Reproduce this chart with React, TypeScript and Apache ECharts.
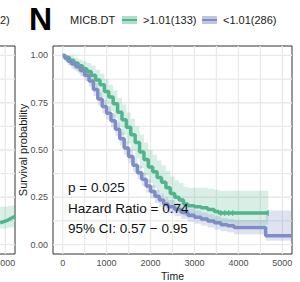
import React, { useEffect, useRef } from "react";
import * as echarts from "echarts";

const FONT = "Liberation Sans, Arial, Helvetica, sans-serif";
const X_MIN = -220;
const X_MAX = 5220;
const Y_MIN = -0.05;
const Y_MAX = 1.05;

const xTicks = [0, 1000, 2000, 3000, 4000, 5000];
const yTicks = [0, 0.25, 0.5, 0.75, 1];
const xGrid = [0, 500, 1000, 1500, 2000, 2500, 3000, 3500, 4000, 4500, 5000];
const yGrid = [0, 0.125, 0.25, 0.375, 0.5, 0.625, 0.75, 0.875, 1];

const legendTitle = "MICB.DT";
const groupNames = [">1.01(133)", "<1.01(286)"];
const annotations = ["p = 0.025", "Hazard Ratio = 0.74", "95% CI: 0.57 \u2212 0.95"];

// Green group (>1.01, n=133)
const gT = [0, 60, 150, 250, 350, 450, 550, 650, 750, 850, 950, 1050, 1150, 1250, 1350, 1450, 1550, 1650, 1750, 1850, 1950, 2050, 2150, 2250, 2350, 2450, 2550, 2650, 2750, 2850, 3000, 3150, 3300, 3450, 3550, 4680];
const gS = [1.0, 0.99, 0.975, 0.96, 0.945, 0.93, 0.915, 0.895, 0.87, 0.845, 0.81, 0.78, 0.745, 0.7, 0.66, 0.62, 0.58, 0.54, 0.49, 0.45, 0.41, 0.385, 0.355, 0.33, 0.3, 0.27, 0.25, 0.235, 0.215, 0.205, 0.2, 0.195, 0.185, 0.175, 0.167, 0.167];
const gU = [1.0, 1.0, 1.0, 0.99, 0.98, 0.97, 0.96, 0.945, 0.925, 0.905, 0.875, 0.845, 0.815, 0.775, 0.74, 0.7, 0.665, 0.625, 0.58, 0.54, 0.5, 0.475, 0.445, 0.42, 0.39, 0.36, 0.34, 0.325, 0.305, 0.3, 0.3, 0.3, 0.295, 0.29, 0.285, 0.285];
const gL = [1.0, 0.97, 0.95, 0.925, 0.905, 0.885, 0.865, 0.84, 0.81, 0.78, 0.74, 0.705, 0.67, 0.62, 0.58, 0.535, 0.495, 0.455, 0.405, 0.365, 0.325, 0.3, 0.27, 0.25, 0.22, 0.195, 0.175, 0.165, 0.15, 0.14, 0.135, 0.13, 0.12, 0.115, 0.105, 0.105];
const gCensT = [3600, 3690, 3780, 3870, 4680];
const gCensS = [0.167, 0.167, 0.167, 0.167, 0.167];

// Blue group (<1.01, n=286)
const bT = [0, 50, 120, 200, 300, 400, 500, 600, 700, 800, 900, 1000, 1100, 1200, 1300, 1400, 1500, 1600, 1700, 1800, 1900, 2000, 2100, 2200, 2300, 2400, 2550, 2700, 2850, 3000, 3150, 3300, 3450, 3600, 3750, 3900, 4620, 5220];
const bS = [1.0, 0.985, 0.97, 0.955, 0.94, 0.92, 0.895, 0.865, 0.82, 0.77, 0.73, 0.695, 0.655, 0.61, 0.56, 0.51, 0.465, 0.42, 0.38, 0.345, 0.31, 0.28, 0.255, 0.235, 0.215, 0.2, 0.185, 0.17, 0.155, 0.145, 0.135, 0.125, 0.115, 0.105, 0.1, 0.09, 0.047, 0.047];
const bU = [1.0, 1.0, 0.99, 0.98, 0.965, 0.95, 0.925, 0.895, 0.855, 0.805, 0.765, 0.73, 0.69, 0.645, 0.595, 0.545, 0.5, 0.455, 0.415, 0.38, 0.345, 0.315, 0.29, 0.27, 0.25, 0.235, 0.22, 0.205, 0.19, 0.18, 0.17, 0.16, 0.15, 0.14, 0.135, 0.13, 0.18, 0.18];
const bL = [1.0, 0.97, 0.95, 0.93, 0.915, 0.89, 0.865, 0.835, 0.785, 0.735, 0.695, 0.66, 0.62, 0.575, 0.525, 0.475, 0.43, 0.385, 0.345, 0.31, 0.275, 0.245, 0.22, 0.2, 0.18, 0.165, 0.15, 0.135, 0.12, 0.11, 0.1, 0.09, 0.08, 0.07, 0.065, 0.055, 0.02, 0.02];

// Fragment of the neighbouring panel on the left
const lT = [4880, 5050, 5220];
const lS = [0.115, 0.128, 0.15];
const lU = [0.2, 0.205, 0.215];
const lL = [0.085, 0.09, 0.1];
const lTicks = [5000];

const GREEN = "#50b58c";
const BLUE = "#7f8dc7";
const GREEN_BAND = "rgba(80,181,140,0.22)";
const BLUE_BAND = "rgba(127,141,199,0.25)";

function bandSeries(T: number[], U: number[], L: number[], fill: string, axisIndex: number) {
  return {
    type: "custom",
    xAxisIndex: axisIndex,
    yAxisIndex: axisIndex,
    z: 2,
    silent: true,
    data: [[T[0], U[0]]],
    encode: { x: 0, y: 1 },
    renderItem: (_params: any, api: any) => {
      const pts: number[][] = [];
      const n = T.length;
      for (let i = 0; i < n; i++) {
        pts.push(api.coord([T[i], U[i]]));
        if (i < n - 1) pts.push(api.coord([T[i + 1], U[i]]));
      }
      for (let i = n - 1; i >= 0; i--) {
        if (i < n - 1) pts.push(api.coord([T[i + 1], L[i]]));
        pts.push(api.coord([T[i], L[i]]));
      }
      return { type: "polygon", shape: { points: pts }, style: { fill, stroke: null } };
    },
  };
}

function gridSeries(axisIndex: number) {
  const data: number[][] = [];
  xGrid.forEach((v) => data.push([v, Y_MIN, 0]));
  yGrid.forEach((v) => data.push([X_MIN, v, 1]));
  return {
    type: "custom",
    xAxisIndex: axisIndex,
    yAxisIndex: axisIndex,
    z: 1,
    silent: true,
    data,
    encode: { x: 0, y: 1 },
    renderItem: (_params: any, api: any) => {
      const a = api.value(0);
      const b = api.value(1);
      const kind = api.value(2);
      let p1, p2;
      if (kind === 0) {
        p1 = api.coord([a, Y_MIN]);
        p2 = api.coord([a, Y_MAX]);
      } else {
        p1 = api.coord([X_MIN, b]);
        p2 = api.coord([X_MAX, b]);
      }
      return {
        type: "line",
        shape: { x1: p1[0], y1: p1[1], x2: p2[0], y2: p2[1] },
        style: { stroke: "#e9e9e9", lineWidth: 1.3 },
      };
    },
  };
}

function lineSeries(T: number[], S: number[], color: string, axisIndex: number, step: any) {
  return {
    type: "line",
    xAxisIndex: axisIndex,
    yAxisIndex: axisIndex,
    z: 3,
    step,
    showSymbol: false,
    silent: true,
    data: T.map((t, i) => [t, S[i]]),
    lineStyle: { color, width: 3.5 },
    itemStyle: { color },
  };
}

function xAxisDef(gridIndex: number, ticks: number[], named: boolean) {
  return {
    gridIndex,
    type: "value",
    min: X_MIN,
    max: X_MAX,
    name: named ? "Time" : "",
    nameLocation: "middle",
    nameGap: 16,
    nameMoveOverlap: false,
    nameTextStyle: { fontSize: 10.5, color: "#1a1a1a", fontFamily: FONT },
    axisLine: { show: false },
    axisTick: { show: true, length: 3, customValues: ticks, lineStyle: { color: "#333", width: 1 } },
    axisLabel: {
      customValues: ticks,
      fontSize: 9,
      color: "#4d4d4d",
      margin: 4,
      fontFamily: FONT,
      formatter: (v: number) => String(v),
    },
    splitLine: { show: false },
  };
}

function yAxisDef(gridIndex: number, named: boolean) {
  return {
    gridIndex,
    type: "value",
    min: Y_MIN,
    max: Y_MAX,
    name: named ? "Survival probability" : "",
    nameLocation: "middle",
    nameGap: 25,
    nameMoveOverlap: false,
    nameTextStyle: { fontSize: 11, color: "#1a1a1a", fontFamily: FONT },
    axisLine: { show: false },
    axisTick: { show: true, length: 3, customValues: yTicks, lineStyle: { color: "#333", width: 1 } },
    axisLabel: {
      show: named,
      customValues: yTicks,
      fontSize: 9,
      color: "#4d4d4d",
      margin: 5,
      fontFamily: FONT,
      formatter: (v: number) => v.toFixed(2),
    },
    splitLine: { show: false },
  };
}

export default function App() {
  const ref = useRef<HTMLDivElement>(null);
  useEffect(() => {
    if (!ref.current) return;
    const chart = echarts.init(ref.current, null, { renderer: "svg" });
    const txt = (text: string, x: number, y: number, size: number, extra: any = {}) => ({
      type: "text",
      x,
      y,
      z: 100,
      style: {
        text,
        fontSize: size,
        fontFamily: FONT,
        fill: "#1a1a1a",
        textVerticalAlign: "middle",
        ...extra,
      },
    });
    const key = (x: number, color: string, band: string) => [
      { type: "rect", z: 100, shape: { x, y: 16, width: 15, height: 8 }, style: { fill: band } },
      { type: "line", z: 101, shape: { x1: x, y1: 20, x2: x + 15, y2: 20 }, style: { stroke: color, lineWidth: 2 } },
    ];
    const option: any = {
      animation: false,
      grid: [
        {
          left: 53, top: 46, right: 8, bottom: 28, show: true, borderColor: "#333", borderWidth: 1,
          backgroundColor: "transparent", containLabel: false, outerBoundsMode: "none",
        },
        {
          left: -224, top: 46, width: 239, bottom: 28, show: true, borderColor: "#333", borderWidth: 1,
          backgroundColor: "transparent", containLabel: false, outerBoundsMode: "none",
        },
      ],
      xAxis: [xAxisDef(0, xTicks, true), xAxisDef(1, lTicks, false)],
      yAxis: [yAxisDef(0, true), yAxisDef(1, false)],
      series: [
        gridSeries(0),
        gridSeries(1),
        bandSeries(gT, gU, gL, GREEN_BAND, 0),
        bandSeries(bT, bU, bL, BLUE_BAND, 0),
        bandSeries(lT, lU, lL, GREEN_BAND, 1),
        lineSeries(gT, gS, GREEN, 0, "end"),
        lineSeries(bT, bS, BLUE, 0, "end"),
        lineSeries(lT, lS, GREEN, 1, false),
        {
          type: "scatter",
          z: 4,
          silent: true,
          symbol: "rect",
          symbolSize: [1.3, 6],
          itemStyle: { color: GREEN },
          data: gCensT.map((t, i) => [t, gCensS[i]]),
        },
      ],
      graphic: [
        txt("2)", 0, 20, 11),
        txt("N", 29, 19, 32, { fontWeight: "bold", fill: "#000" }),
        txt(legendTitle, 70, 20, 11),
        ...key(122, GREEN, "rgba(80,181,140,0.45)"),
        txt(groupNames[0], 143, 20, 11),
        ...key(202, BLUE, "rgba(127,141,199,0.5)"),
        txt(groupNames[1], 223, 20, 11),
        txt(annotations[0], 68, 187, 13.5, { fill: "#111" }),
        txt(annotations[1], 68, 208, 13.5, { fill: "#111" }),
        txt(annotations[2], 68, 228, 13.5, { fill: "#111" }),
      ],
    };
    chart.setOption(option);
    return () => chart.dispose();
  }, []);
  return <div ref={ref} style={{ width: 300, height: 282, position: "absolute", left: 0, top: 0 }} />;
}
